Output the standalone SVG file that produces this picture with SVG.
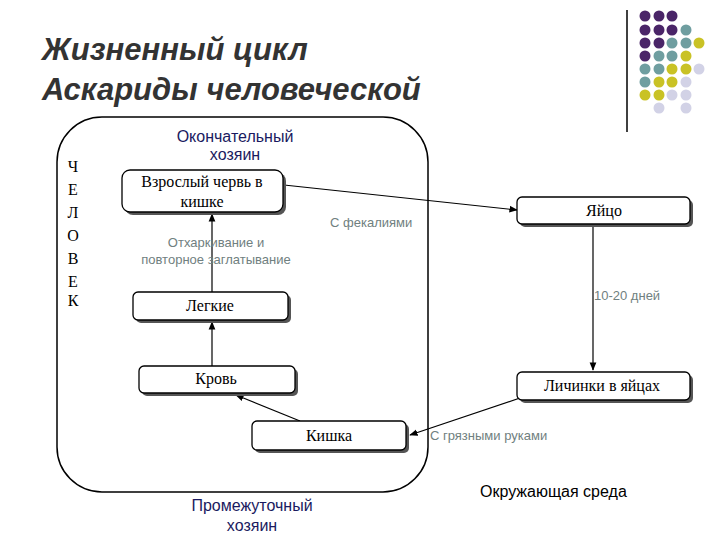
<svg xmlns="http://www.w3.org/2000/svg" width="720" height="540" viewBox="0 0 720 540">
<defs>
<marker id="ar" viewBox="0 0 10 10" refX="9" refY="5" markerWidth="7" markerHeight="7" orient="auto"><path d="M0,1 L10,5 L0,9 z" fill="#000"/></marker>
</defs>
<style>
.box{fill:#fff;stroke:#000;stroke-width:1.3}
.sh{fill:#555}
.bt{font-family:"Liberation Serif",serif;font-size:16px;fill:#000}
.lab{font-family:"Liberation Sans",sans-serif;font-size:13px;fill:#708080}
.blue{font-family:"Liberation Sans",sans-serif;font-size:16px;fill:#1a1a60}
.ln{stroke:#000;stroke-width:1.2;fill:none;marker-end:url(#ar)}
.p{fill:#4a2568}.t{fill:#6f9ea0}.y{fill:#c9c225}.l{fill:#d2d2e6}
</style>
<rect width="720" height="540" fill="#fff"/>
<text x="42" y="60" font-family="Liberation Sans,sans-serif" font-size="31" font-weight="bold" font-style="italic" fill="#333">Жизненный цикл</text>
<text x="42" y="100" font-family="Liberation Sans,sans-serif" font-size="31" font-weight="bold" font-style="italic" fill="#333">Аскариды человеческой</text>
<line x1="627" y1="10" x2="627" y2="132" stroke="#000" stroke-width="1.5"/>
<g>
<circle class="p" cx="645" cy="16" r="5.5"/><circle class="p" cx="659" cy="16" r="5.5"/><circle class="p" cx="672" cy="16" r="5.5"/>
<circle class="p" cx="645" cy="30" r="5.5"/><circle class="p" cx="659" cy="30" r="5.5"/><circle class="p" cx="672" cy="30" r="5.5"/><circle class="t" cx="686" cy="30" r="5.5"/>
<circle class="p" cx="645" cy="43" r="5.5"/><circle class="p" cx="659" cy="43" r="5.5"/><circle class="t" cx="672" cy="43" r="5.5"/><circle class="t" cx="686" cy="43" r="5.5"/><circle class="y" cx="699" cy="43" r="5.5"/>
<circle class="p" cx="645" cy="56" r="5.5"/><circle class="t" cx="659" cy="56" r="5.5"/><circle class="t" cx="672" cy="56" r="5.5"/><circle class="y" cx="686" cy="56" r="5.5"/>
<circle class="t" cx="645" cy="69" r="5.5"/><circle class="t" cx="659" cy="69" r="5.5"/><circle class="y" cx="672" cy="69" r="5.5"/><circle class="y" cx="686" cy="69" r="5.5"/><circle class="l" cx="699" cy="69" r="5.5"/>
<circle class="t" cx="645" cy="82" r="5.5"/><circle class="y" cx="659" cy="82" r="5.5"/><circle class="y" cx="672" cy="82" r="5.5"/><circle class="l" cx="686" cy="82" r="5.5"/>
<circle class="y" cx="645" cy="95" r="5.5"/><circle class="y" cx="659" cy="95" r="5.5"/><circle class="l" cx="672" cy="95" r="5.5"/><circle class="l" cx="686" cy="95" r="5.5"/>
<circle class="l" cx="659" cy="108" r="5.5"/><circle class="l" cx="686" cy="108" r="5.5"/>
</g>
<rect x="57" y="117" width="371" height="375" rx="45" fill="none" stroke="#000" stroke-width="1.5"/>
<g font-family="Liberation Serif,serif" font-size="16" text-anchor="middle">
<text x="73" y="172">Ч</text><text x="73" y="195">Е</text><text x="73" y="218">Л</text><text x="73" y="241">О</text><text x="73" y="264">В</text><text x="73" y="287">Е</text><text x="73" y="306">К</text>
</g>
<text class="blue" text-anchor="middle"><tspan x="235" y="142">Окончательный</tspan><tspan x="235" y="160">хозяин</tspan></text>
<text class="blue" text-anchor="middle"><tspan x="252" y="511">Промежуточный</tspan><tspan x="252" y="531">хозяин</tspan></text>
<text x="480" y="497" font-family="Liberation Sans,sans-serif" font-size="16" fill="#000">Окружающая среда</text>
<g id="connectors">
<polyline class="ln" points="284,185 517,210"/>
<line class="ln" x1="212" y1="293" x2="212" y2="214"/>
<line class="ln" x1="212" y1="366" x2="212" y2="322"/>
<line class="ln" x1="300" y1="421" x2="236" y2="395"/>
<line class="ln" x1="593" y1="226" x2="593" y2="370"/>
<line class="ln" x1="520" y1="398" x2="410" y2="435"/>
</g>
<text class="lab" x="330" y="227" fill="#777">С фекалиями</text>
<text class="lab" text-anchor="middle"><tspan x="216" y="247">Отхаркивание и</tspan><tspan x="216" y="264">повторное заглатывание</tspan></text>
<text class="lab" x="594" y="300">10-20 дней</text>
<text class="lab" x="430" y="440">С грязными руками</text>
<g id="n1"><rect class="sh" x="125" y="173" width="161" height="42" rx="8"/><rect class="box" x="122" y="170" width="161" height="42" rx="8"/><text class="bt" text-anchor="middle"><tspan x="202" y="187">Взрослый червь в</tspan><tspan x="202" y="207">кишке</tspan></text></g>
<g id="n2"><rect class="sh" x="520" y="200" width="173" height="27" rx="5"/><rect class="box" x="517" y="197" width="173" height="27" rx="5"/><text class="bt" x="604" y="216" text-anchor="middle">Яйцо</text></g>
<g id="n3"><rect class="sh" x="136" y="295" width="155" height="28" rx="5"/><rect class="box" x="133" y="292" width="155" height="28" rx="5"/><text class="bt" x="210" y="311" text-anchor="middle">Легкие</text></g>
<g id="n4"><rect class="sh" x="142" y="369" width="156" height="27" rx="5"/><rect class="box" x="139" y="366" width="156" height="27" rx="5"/><text class="bt" x="216" y="384" text-anchor="middle">Кровь</text></g>
<g id="n5"><rect class="sh" x="255" y="424" width="154" height="29" rx="5"/><rect class="box" x="252" y="421" width="154" height="29" rx="5"/><text class="bt" x="329" y="441" text-anchor="middle">Кишка</text></g>
<g id="n6"><rect class="sh" x="520" y="375" width="173" height="28" rx="5"/><rect class="box" x="517" y="372" width="173" height="28" rx="5"/><text class="bt" x="602" y="391" text-anchor="middle">Личинки в яйцах</text></g>
</svg>
